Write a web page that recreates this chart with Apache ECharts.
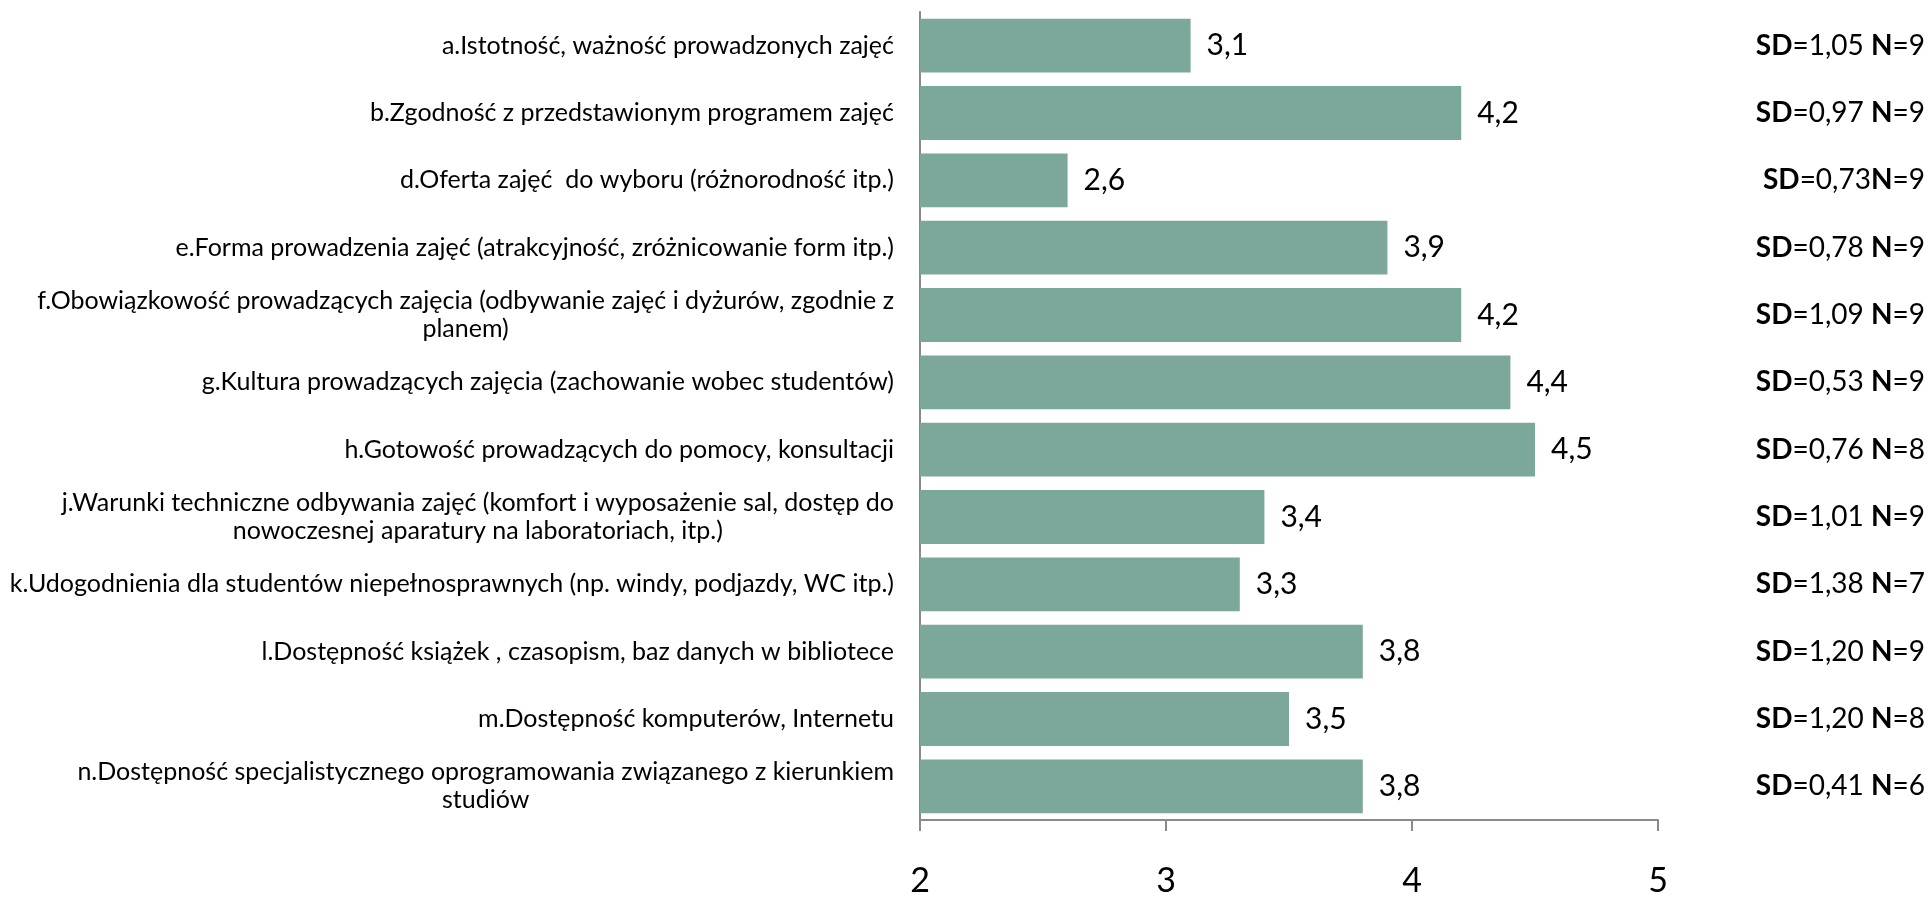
<!DOCTYPE html>
<html>
<head>
<meta charset="utf-8">
<script src="https://cdn.jsdelivr.net/npm/echarts@6/dist/echarts.min.js"></script>
<style>
  html, body { margin: 0; padding: 0; background: #fff; }
  #chart { width: 1932px; height: 898px; }
</style>
</head>
<body>
<div id="chart"></div>
<script>
const categories = [
  'a.Istotność, ważność prowadzonych zajęć',
  'b.Zgodność z przedstawionym programem zajęć',
  'd.Oferta zajęć  do wyboru (różnorodność itp.)',
  'e.Forma prowadzenia zajęć (atrakcyjność, zróżnicowanie form itp.)',
  'f.Obowiązkowość prowadzących zajęcia (odbywanie zajęć i dyżurów, zgodnie z\nplanem)',
  'g.Kultura prowadzących zajęcia (zachowanie wobec studentów)',
  'h.Gotowość prowadzących do pomocy, konsultacji',
  'j.Warunki techniczne odbywania zajęć (komfort i wyposażenie sal, dostęp do\nnowoczesnej aparatury na laboratoriach, itp.)',
  'k.Udogodnienia dla studentów niepełnosprawnych (np. windy, podjazdy, WC itp.)',
  'l.Dostępność książek , czasopism, baz danych w bibliotece',
  'm.Dostępność komputerów, Internetu',
  'n.Dostępność specjalistycznego oprogramowania związanego z kierunkiem\nstudiów'
]
const means = [3.1, 4.2, 2.6, 3.9, 4.2, 4.4, 4.5, 3.4, 3.3, 3.8, 3.5, 3.8]
const sdLabels = [
  '{b|SD}=1,05 {b|N}=9',
  '{b|SD}=0,97 {b|N}=9',
  '{b|SD}=0,73{b|N}=9',
  '{b|SD}=0,78 {b|N}=9',
  '{b|SD}=1,09 {b|N}=9',
  '{b|SD}=0,53 {b|N}=9',
  '{b|SD}=0,76 {b|N}=8',
  '{b|SD}=1,01 {b|N}=9',
  '{b|SD}=1,38 {b|N}=7',
  '{b|SD}=1,20 {b|N}=9',
  '{b|SD}=1,20 {b|N}=8',
  '{b|SD}=0,41 {b|N}=6'
]
const xTicks = [2, 3, 4, 5]

const font = 'Lato, "Open Sans", sans-serif'
const axisGray = '#8a8a8a'

const chart = echarts.init(document.getElementById('chart'), null, { renderer: 'canvas' })

chart.setOption({
  animation: false,
  grid: { left: 920, right: 274, top: 12, bottom: 72, containLabel: false },
  xAxis: {
    type: 'value',
    min: xTicks[0],
    max: xTicks[xTicks.length - 1],
    interval: 1,
    axisLine: { show: true, lineStyle: { color: axisGray, width: 2 } },
    axisTick: { show: true, length: 11, lineStyle: { color: axisGray, width: 2 } },
    splitLine: { show: false },
    axisLabel: { fontFamily: font, fontSize: 34, color: '#000', margin: 44 }
  },
  yAxis: [
    {
      type: 'category',
      inverse: true,
      data: categories,
      axisLine: { show: true, lineStyle: { color: axisGray, width: 2 } },
      axisTick: { show: false },
      axisLabel: {
        fontFamily: font,
        fontSize: 25,
        color: '#000',
        margin: 26,
        lineHeight: 28,
        formatter: (v) => v.split('\n').map((s) => '{c|' + s + '}').join('\n'),
        rich: { c: { align: 'center', fontFamily: font, fontSize: 25, lineHeight: 28, color: '#000' } }
      }
    },
    {
      type: 'category',
      inverse: true,
      position: 'right',
      data: sdLabels,
      axisLine: { show: false },
      axisTick: { show: false },
      axisLabel: {
        fontFamily: font,
        fontSize: 28,
        color: '#000',
        align: 'right',
        margin: 267,
        rich: { b: { fontFamily: font, fontSize: 28, fontWeight: 'bold', color: '#000' } }
      }
    }
  ],
  series: [
    {
      type: 'bar',
      yAxisIndex: 0,
      data: means,
      barCategoryGap: '20%',
      itemStyle: { color: '#7ca89c' },
      label: {
        show: true,
        position: 'right',
        distance: 16,
        fontFamily: font,
        fontSize: 30,
        color: '#000',
        formatter: (p) => p.value.toFixed(1).replace('.', ',')
      }
    }
  ]
})
</script>
</body>
</html>
